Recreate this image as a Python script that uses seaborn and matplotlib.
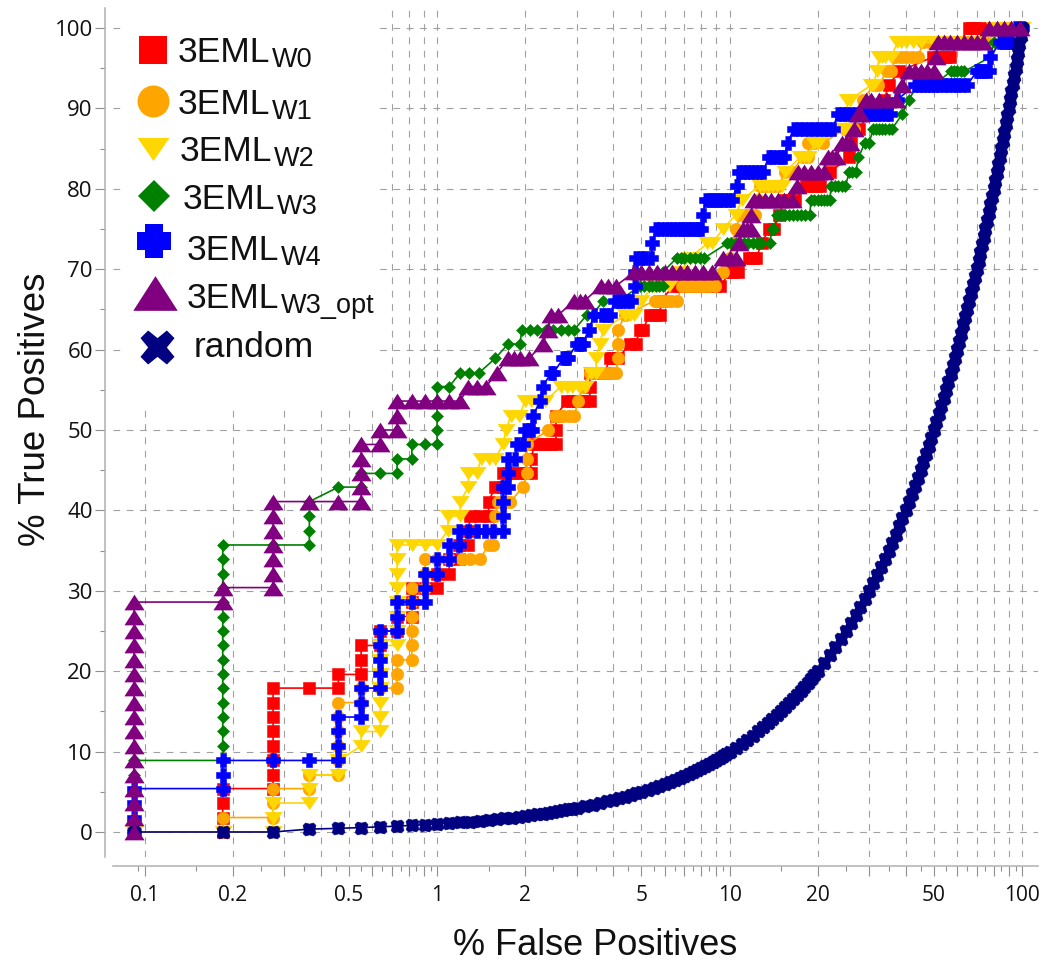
import pandas as pd
import matplotlib.pyplot as plt
from matplotlib.lines import Line2D
from matplotlib.patches import Rectangle
from matplotlib.ticker import FixedLocator, NullFormatter
import seaborn as sns

sns.set_theme(style="ticks")
plt.rcParams['font.family'] = ['Open Sans', 'DejaVu Sans']

# ROC points as (% false positives, % true positives)
w0 = [(0.185, 0), (0.185, 1.8), (0.185, 3.6), (0.185, 5.4),
      (0.275, 5.4), (0.275, 7.1), (0.275, 8.9), (0.275, 10.7), (0.275, 12.5), (0.275, 14.3), (0.275, 16.1), (0.275, 17.9),
      (0.366, 17.9), (0.46, 17.9), (0.46, 19.6), (0.55, 19.6), (0.55, 21.4), (0.55, 23.2), (0.64, 23.2), (0.64, 25),
      (0.73, 25), (0.73, 26.8), (0.82, 26.8), (0.82, 28.6), (0.82, 30.4), (0.91, 30.4), (1.0, 30.4), (1.0, 32.1),
      (1.1, 32.1), (1.1, 33.9), (1.19, 33.9), (1.19, 35.7), (1.28, 35.7), (1.28, 37.5),
      (1.3, 39.3), (1.4, 39.3), (1.5, 39.3), (1.5, 41.1), (1.58, 42.9), (1.68, 42.9),
      (1.68, 44.6), (1.75, 44.6), (1.82, 44.6), (1.94, 44.6), (2.02, 44.6), (2.09, 44.6), (2.09, 46.4),
      (2.16, 48.2), (2.25, 48.2), (2.34, 48.2), (2.45, 48.2), (2.55, 48.2), (2.55, 50), (2.55, 51.8),
      (2.78, 53.6), (2.9, 53.6), (3.03, 53.6), (3.18, 53.6), (3.33, 53.6), (3.33, 55.4),
      (3.33, 57.1), (3.5, 57.1), (3.74, 57.1), (3.9, 58.9), (4.0, 58.9), (4.15, 58.9), (4.56, 60.7), (4.78, 60.7),
      (4.93, 62.5), (5.05, 62.5), (5.33, 64.3), (5.55, 64.3), (5.8, 64.3), (5.8, 66.1),
      (6.45, 67.9), (6.7, 67.9), (7.0, 67.9), (7.3, 67.9), (7.6, 67.9), (7.9, 67.9), (8.2, 67.9), (8.55, 67.9), (8.9, 67.9), (9.3, 67.9),
      (10, 69.6), (10.3, 69.6), (10.65, 69.6), (11.7, 71.4), (12, 71.4), (12.3, 71.4), (12.9, 73.2), (13.6, 75), (14.2, 75), (14.8, 76.8),
      (15.4, 78.6), (16, 78.6), (16.7, 78.6), (18.3, 80.4), (19, 80.4), (19.7, 80.4), (20.4, 80.4), (22, 82.1), (25.7, 83.9), (26, 85.7),
      (27.8, 87.5), (30, 89.3), (33.8, 91.1), (35, 92.9), (38, 94.6), (49.6, 96.4), (51.5, 96.4), (53.5, 96.4), (55, 96.4), (56.8, 96.4),
      (61, 98.2), (66, 100), (67.5, 100), (69, 100), (73, 100), (78, 100), (84, 100), (90, 100), (96, 100), (100, 100)]

w1 = [(0.185, 0), (0.185, 1.8), (0.275, 1.8), (0.275, 3.6), (0.275, 5.4), (0.366, 5.4), (0.366, 7.1), (0.46, 7.1),
      (0.46, 8.9), (0.46, 10.7), (0.46, 12.5), (0.46, 14.3), (0.46, 16.1), (0.55, 16.1), (0.55, 17.9), (0.64, 17.9),
      (0.73, 17.9), (0.73, 19.6), (0.73, 21.4), (0.82, 21.4), (0.82, 23.2), (0.82, 25), (0.82, 26.8), (0.82, 28.6),
      (0.82, 30.4), (0.91, 30.4), (0.91, 32.1), (0.91, 33.9), (1.0, 33.9), (1.1, 33.9), (1.22, 33.9), (1.3, 33.9), (1.4, 33.9),
      (1.5, 35.7), (1.55, 35.7), (1.55, 37.5), (1.58, 39.3), (1.62, 41.1), (1.72, 41.1), (1.78, 41.1), (1.97, 42.9),
      (2.03, 44.6), (2.03, 46.4), (2.03, 48.2), (2.4, 50), (2.53, 51.8), (2.62, 51.8), (2.7, 51.8), (2.82, 51.8), (2.95, 51.8), (3.03, 53.6),
      (3.15, 55.4), (3.33, 57.1), (3.46, 57.1), (3.6, 57.1), (3.72, 57.1), (3.85, 57.1), (4.0, 57.1), (4.1, 57.1), (4.15, 58.9), (4.15, 60.7), (4.15, 62.5),
      (4.4, 64.3), (5.55, 66.1), (5.7, 66.1), (5.9, 66.1), (6.1, 66.1), (6.3, 66.1), (6.6, 66.1),
      (6.9, 67.9), (7.15, 67.9), (7.4, 67.9), (7.65, 67.9), (7.9, 67.9), (8.2, 67.9), (8.5, 67.9), (8.9, 67.9),
      (9.5, 69.6), (10, 71.4), (10.2, 73.2), (10.5, 75), (10.9, 76.8), (11.2, 76.8), (11.5, 76.8), (11.9, 76.8), (12.2, 76.8), (12.5, 78.6),
      (12.7, 80.4), (13.1, 80.4), (13.5, 80.4), (14.1, 80.4), (14.7, 80.4), (15.5, 82.1), (16.3, 82.1), (17.8, 83.9), (18.6, 83.9),
      (18.6, 85.7), (19.5, 85.7), (20.9, 85.7), (24.9, 87.5), (25.8, 87.5), (26.7, 87.5), (27.5, 89.3), (28.5, 91.1),
      (31.2, 92.9), (32.3, 92.9), (34.5, 94.6), (35.7, 94.6), (36.9, 96.4), (38.5, 96.4), (40, 96.4), (42, 96.4), (44, 96.4),
      (46, 98.2), (48, 98.2), (49, 98.2), (55, 98.2), (65, 98.2), (75, 98.2), (85, 100), (95, 100), (100, 100)]

w2 = [(0.092, 0), (0.185, 0), (0.275, 0), (0.275, 1.8), (0.275, 3.6), (0.366, 3.6), (0.366, 5.4), (0.366, 7.1), (0.46, 7.1),
      (0.46, 8.9), (0.55, 10.7), (0.55, 12.5), (0.64, 12.5), (0.64, 14.3), (0.64, 16.1), (0.64, 17.9), (0.64, 19.6),
      (0.64, 21.4), (0.64, 23.2), (0.73, 23.2), (0.73, 25), (0.73, 26.8), (0.73, 28.6), (0.73, 30.4), (0.73, 32.1),
      (0.73, 33.9), (0.73, 35.7), (0.82, 35.7), (0.91, 35.7), (1.0, 35.7), (1.09, 37.5), (1.09, 39.3), (1.2, 39.3),
      (1.2, 41.1), (1.28, 42.9), (1.28, 44.6), (1.37, 44.6), (1.41, 46.4), (1.5, 46.4), (1.58, 46.4), (1.68, 48.2), (1.72, 50),
      (1.79, 51.8), (1.91, 51.8), (2, 53.6), (2.1, 53.6), (2.2, 53.6), (2.34, 53.6), (2.65, 55.4), (2.78, 55.4), (2.9, 55.4), (3.05, 55.4), (3.2, 55.4),
      (3.35, 57.1), (3.5, 57.1), (3.5, 58.9), (3.6, 60.7), (3.7, 62.5), (4.4, 64.3), (4.55, 64.3), (4.7, 64.3), (5.0, 66.1),
      (5.5, 67.9), (6.2, 67.9), (6.8, 69.6), (7.3, 71.4), (8.4, 73.2), (8.7, 73.2), (9.5, 75), (10.5, 76.8), (11, 78.6),
      (12.7, 80.4), (13.1, 80.4), (13.5, 80.4), (14, 80.4), (14.5, 80.4), (15.1, 80.4), (15.5, 82.1), (17.4, 83.9), (18, 83.9), (18.6, 83.9), (19.5, 85.7), (20.1, 85.7),
      (24.5, 87.5), (25, 87.5), (25.2, 89.3), (25.3, 91.1), (25.8, 91.1), (30.5, 92.9), (31, 92.9), (31.9, 94.6),
      (32.5, 96.4), (33.2, 96.4), (34, 96.4), (35.7, 96.4), (37.5, 98.2), (38.7, 98.2), (40, 98.2), (42.5, 98.2), (45, 98.2),
      (50, 98.2), (60, 98.2), (70, 98.2), (80, 100), (90, 100), (100, 100)]

w3 = [(0.092, 0), (0.092, 1.8), (0.092, 3.6), (0.092, 5.4), (0.092, 7.1), (0.092, 8.9), (0.185, 8.9), (0.185, 10.7), (0.185, 12.5),
      (0.185, 14.3), (0.185, 16.1), (0.185, 17.9), (0.185, 19.6), (0.185, 21.4), (0.185, 23.2), (0.185, 25), (0.185, 26.8),
      (0.185, 28.6), (0.185, 30.4), (0.185, 32.1), (0.185, 33.9), (0.185, 35.7), (0.275, 35.7), (0.366, 35.7), (0.366, 37.5),
      (0.366, 39.3), (0.366, 41.1), (0.46, 42.9), (0.55, 42.9), (0.55, 44.6), (0.64, 44.6), (0.73, 44.6), (0.73, 46.4),
      (0.82, 46.4), (0.82, 48.2), (0.91, 48.2), (1.0, 48.2), (1.0, 50), (1.0, 51.8), (1.0, 53.6), (1.0, 55.4), (1.1, 55.4),
      (1.2, 57.1), (1.29, 57.1), (1.39, 57.1), (1.58, 58.9), (1.75, 60.7), (1.92, 60.7), (1.95, 62.5), (2.08, 62.5),
      (2.2, 62.5), (2.35, 62.5), (2.5, 62.5), (2.65, 62.5), (2.8, 62.5), (2.95, 62.5), (3.25, 64.3), (3.4, 64.3),
      (3.7, 66.1), (4.2, 66.1), (4.93, 67.9), (5.1, 67.9), (5.3, 67.9), (5.45, 67.9), (5.6, 67.9), (5.75, 67.9), (5.9, 67.9), (5.9, 69.6),
      (6.6, 71.4), (6.8, 71.4), (7, 71.4), (7.3, 71.4), (7.6, 71.4), (7.9, 71.4), (8.2, 71.4),
      (9.8, 73.2), (10.15, 73.2), (10.5, 73.2), (10.85, 73.2), (11.2, 73.2), (11.6, 73.2), (12, 73.2), (12.4, 73.2), (12.8, 73.2), (13.7, 73.2),
      (14, 75), (14.2, 75), (14.5, 76.8), (15, 76.8), (15.5, 76.8), (16, 76.8), (16.5, 76.8), (17, 76.8), (17.5, 76.8), (18.1, 76.8), (18.8, 76.8),
      (19, 78.6), (19.5, 78.6), (20, 78.6), (20.5, 78.6), (21, 78.6), (21.5, 78.6), (22, 78.6),
      (22.3, 80.4), (22.9, 80.4), (23.5, 80.4), (24.2, 80.4), (24.9, 80.4), (25.7, 82.1), (26.3, 82.1), (27, 82.1),
      (27.6, 83.9), (29, 85.7), (30, 85.7), (31, 87.5), (31.7, 87.5), (32.5, 87.5), (33.2, 87.5), (34, 87.5), (35, 87.5), (36, 87.5),
      (39, 89.3), (41, 91.1), (44, 92.9), (50, 92.9), (57, 94.6), (58.5, 94.6), (60, 94.6), (61.7, 94.6), (63.5, 94.6),
      (78, 96.4), (80, 98.2), (88, 98.2), (95, 98.2), (96, 100), (100, 100)]

w4 = [(0.092, 0), (0.092, 1.8), (0.092, 3.6), (0.092, 5.4), (0.185, 5.4), (0.185, 7.1), (0.185, 8.9), (0.275, 8.9), (0.366, 8.9),
      (0.46, 8.9), (0.46, 10.7), (0.46, 12.5), (0.46, 14.3), (0.55, 14.3), (0.55, 16.1), (0.55, 17.9), (0.64, 17.9),
      (0.64, 19.6), (0.64, 21.4), (0.64, 23.2), (0.64, 25), (0.73, 25), (0.73, 26.8), (0.73, 28.6), (0.82, 28.6),
      (0.91, 28.6), (0.91, 30.4), (0.91, 32.1), (1.0, 32.1), (1.0, 33.9), (1.1, 33.9), (1.1, 35.7), (1.19, 35.7),
      (1.19, 37.5), (1.28, 37.5), (1.37, 37.5), (1.46, 37.5), (1.55, 37.5), (1.68, 37.5), (1.68, 39.3), (1.68, 41.1),
      (1.68, 42.9), (1.75, 42.9), (1.75, 44.6), (1.75, 46.4), (1.85, 46.4), (1.88, 48.2), (1.96, 48.2), (2, 50), (2.06, 50), (2.12, 50),
      (2.13, 51.8), (2.25, 53.6), (2.3, 55.4), (2.45, 57.1), (2.5, 57.1), (2.7, 58.9), (2.75, 58.9), (2.8, 58.9), (3.0, 60.7), (3.08, 60.7), (3.15, 60.7),
      (3.3, 62.5), (3.45, 64.3), (3.65, 64.3), (3.78, 64.3), (3.9, 64.3), (4.05, 66.1), (4.18, 66.1), (4.3, 66.1), (4.45, 66.1), (4.6, 66.1), (4.75, 67.9), (4.75, 69.6),
      (4.8, 71.4), (5, 71.4), (5.15, 71.4), (5.4, 71.4), (5.45, 73.2),
      (5.6, 75), (5.8, 75), (6, 75), (6.2, 75), (6.4, 75), (6.6, 75), (6.8, 75), (7, 75), (7.2, 75), (7.4, 75), (7.6, 75), (7.8, 75), (8, 75),
      (8.1, 76.8), (8.3, 78.6), (8.55, 78.6), (8.8, 78.6), (9.05, 78.6), (9.3, 78.6), (9.6, 78.6), (9.9, 78.6), (10.2, 78.6), (10.6, 80.4),
      (10.8, 82.1), (11.15, 82.1), (11.5, 82.1), (11.85, 82.1), (12.2, 82.1), (12.6, 82.1), (13, 82.1),
      (13.6, 83.9), (14, 83.9), (14.5, 83.9), (15, 83.9), (15.4, 83.9), (15.8, 85.7),
      (16.6, 87.5), (17.3, 87.5), (18, 87.5), (18.7, 87.5), (19.5, 87.5), (20.2, 87.5), (21, 87.5), (21.7, 87.5), (22.5, 87.5),
      (23.5, 89.3), (24.2, 89.3), (25, 89.3), (26, 89.3), (27, 89.3), (28, 89.3), (29, 89.3), (30, 89.3), (31, 89.3), (32, 89.3), (33, 89.3), (34.2, 89.3), (35.5, 89.3), (37.5, 91.1),
      (43, 92.9), (44.5, 92.9), (46, 92.9), (47.5, 92.9), (49, 92.9), (50.5, 92.9), (52, 92.9), (54, 92.9), (56, 92.9), (58, 92.9), (60, 92.9), (62.5, 92.9), (65, 92.9),
      (70, 94.6), (71.5, 94.6), (73, 94.6), (75, 94.6), (77, 94.6), (78, 96.4), (84, 98.2), (86, 98.2), (88, 98.2), (90, 98.2), (92, 98.2), (95, 100), (100, 100)]

w3_opt = [(0.092, 0), (0.092, 1.8), (0.092, 3.6), (0.092, 5.4), (0.092, 7.1), (0.092, 8.9), (0.092, 10.7), (0.092, 12.5), (0.092, 14.3),
          (0.092, 16.1), (0.092, 17.9), (0.092, 19.6), (0.092, 21.4), (0.092, 23.2), (0.092, 25), (0.092, 26.8), (0.092, 28.6),
          (0.185, 28.6), (0.185, 30.4), (0.275, 30.4), (0.275, 32.1), (0.275, 33.9), (0.275, 35.7), (0.275, 37.5), (0.275, 39.3),
          (0.275, 41.1), (0.366, 41.1), (0.46, 41.1), (0.55, 41.1), (0.55, 42.9), (0.55, 44.6), (0.55, 46.4), (0.55, 48.2),
          (0.64, 48.2), (0.64, 50), (0.73, 50), (0.73, 51.8), (0.73, 53.6), (0.82, 53.6), (0.91, 53.6), (1.0, 53.6), (1.1, 53.6), (1.2, 53.6),
          (1.28, 55.4), (1.37, 55.4), (1.47, 55.4), (1.6, 57.1), (1.75, 58.9), (1.83, 58.9), (1.92, 58.9), (2.06, 58.9), (2.3, 60.7), (2.4, 62.5),
          (2.45, 64.3), (2.6, 64.3), (2.94, 66.1), (3.08, 66.1), (3.2, 66.1), (3.63, 67.9), (3.85, 67.9), (4.08, 67.9),
          (4.7, 69.6), (5, 69.6), (5.3, 69.6), (5.65, 69.6), (6, 69.6), (6.35, 69.6), (6.75, 69.6), (7.15, 69.6), (7.6, 69.6), (8.1, 69.6), (8.7, 69.6),
          (9.5, 71.4), (10, 71.4), (10.5, 71.4), (10.8, 73.2), (11.1, 75), (11.45, 75), (11.8, 75), (11.8, 76.8),
          (12.1, 78.6), (12.6, 78.6), (13.2, 78.6), (13.9, 78.6), (14.6, 78.6), (15.4, 78.6), (16.3, 78.6), (17, 80.4),
          (17.2, 82.1), (18, 82.1), (19, 82.1), (20, 82.1), (21, 82.1), (21.7, 83.9), (22.4, 83.9), (23.2, 83.9), (24.3, 85.7), (25, 85.7), (25.8, 85.7), (26.7, 87.5),
          (27.4, 89.3), (28, 89.3), (29.2, 91.1), (30.5, 91.1), (32.5, 91.1), (34.5, 91.1), (37, 91.1), (39, 92.9),
          (41, 94.6), (43, 94.6), (45, 94.6), (47.5, 94.6), (50, 94.6), (51, 96.4),
          (51.5, 98.2), (54, 98.2), (56.6, 98.2), (60, 98.2), (63.5, 98.2), (67, 98.2), (70, 98.2), (73.5, 98.2),
          (77, 100), (82, 100), (87, 100), (92, 100), (98.5, 100)]

random_fp = [0.092, 0.185, 0.275, 0.366, 0.46, 0.55, 0.64, 0.73, 0.82, 0.91, 1.0, 1.1, 1.2, 1.3, 1.4, 1.5, 1.6, 1.7, 1.8, 1.9,
             2, 2.1, 2.2, 2.3, 2.4, 2.5, 2.6, 2.7, 2.8, 2.9, 3, 3.2, 3.4, 3.6, 3.8, 4, 4.2, 4.4, 4.6, 4.8, 5, 5.25, 5.5, 5.75,
             6, 6.25, 6.5, 6.75, 7, 7.25, 7.5, 7.75, 8, 8.25, 8.5, 8.75, 9, 9.25, 9.5, 9.75, 10, 10.5, 11, 11.5, 12, 12.5, 13,
             13.5, 14, 14.5, 15, 15.5, 16, 16.5, 17, 17.5, 18, 18.5, 19, 19.5, 20, 21, 22, 23, 24, 25, 26, 27, 28, 29, 30,
             31, 32, 33, 34, 35, 36, 37, 38, 39, 40, 41, 42, 43, 44, 45, 46, 47, 48, 49, 50, 51, 52, 53, 54, 55, 56, 57, 58,
             59, 60, 61, 62, 63, 64, 65, 66, 67, 68, 69, 70, 71, 72, 73, 74, 75, 76, 77, 78, 79, 80, 81, 82, 83, 84, 85, 86,
             87, 88, 89, 90, 91, 92, 93, 94, 95, 96, 97, 98, 99, 100]
random_tp = [0, 0, 0, 0.36, 0.45, 0.55, 0.64, 0.73, 0.82, 0.91, 1.0, 1.1, 1.2, 1.3, 1.4, 1.5, 1.6, 1.7, 1.8, 1.9,
             2, 2.1, 2.2, 2.3, 2.4, 2.5, 2.6, 2.7, 2.8, 2.9, 3, 3.2, 3.4, 3.6, 3.8, 4, 4.2, 4.4, 4.6, 4.8, 5, 5.25, 5.5, 5.75,
             6, 6.25, 6.5, 6.75, 7, 7.25, 7.5, 7.75, 8, 8.25, 8.5, 8.75, 9, 9.25, 9.5, 9.75, 10, 10.5, 11, 11.5, 12, 12.5, 13,
             13.5, 14, 14.5, 15, 15.5, 16, 16.5, 17, 17.5, 18, 18.5, 19, 19.5, 20, 21, 22, 23, 24, 25, 26, 27, 28, 29, 30,
             31, 32, 33, 34, 35, 36, 37, 38, 39, 40, 41, 42, 43, 44, 45, 46, 47, 48, 49, 50, 51, 52, 53, 54, 55, 56, 57, 58,
             59, 60, 61, 62, 63, 64, 65, 66, 67, 68, 69, 70, 71, 72, 73, 74, 75, 76, 77, 78, 79, 80, 81, 82, 83, 84, 85, 86,
             87, 88, 89, 90, 91, 92, 93, 94, 95, 96, 97, 98, 99, 100]

x_major = [0.1, 0.2, 0.3, 0.4, 0.5, 0.6, 0.7, 0.8, 0.9, 1, 2, 3, 4, 5, 6, 7, 8, 9, 10, 20, 30, 40, 50, 60, 70, 80, 90, 100]
x_minor = [0.095, 0.15, 0.25, 0.35, 0.45, 0.55, 0.65, 0.75, 0.85, 0.95, 1.5, 2.5, 3.5, 4.5, 5.5, 6.5, 7.5, 8.5, 9.5,
           15, 25, 35, 45, 55, 65, 75, 85, 95]
x_labelled = {0.1: '0.1', 0.2: '0.2', 0.5: '0.5', 1: '1', 2: '2', 5: '5', 10: '10', 20: '20', 50: '50', 100: '100'}
y_major = [0, 10, 20, 30, 40, 50, 60, 70, 80, 90, 100]
y_minor = [5, 15, 25, 35, 45, 55, 65, 75, 85, 95]

# markers in the picture are squatter / fatter than the stock ones
tri_down = [(-1, 0.72), (1, 0.72), (0, -0.72)]
tri_up = [(-1, -0.78), (1, -0.78), (0, 0.78)]
fat_plus = [(-0.5, 1), (0.5, 1), (0.5, 0.5), (1, 0.5), (1, -0.5), (0.5, -0.5), (0.5, -1), (-0.5, -1),
            (-0.5, -0.5), (-1, -0.5), (-1, 0.5), (-0.5, 0.5)]
fat_x = [(-1, -0.55), (-0.55, -1), (0, -0.55), (0.55, -1), (1, -0.55), (0.55, 0), (1, 0.55), (0.55, 1),
         (0, 0.55), (-0.55, 1), (-1, 0.55), (-0.55, 0)]
# at plot size the x blurs into a round blob with shallow notches
blob = [(-1, -0.6), (-0.6, -1), (0, -0.82), (0.6, -1), (1, -0.6), (0.82, 0), (1, 0.6), (0.6, 1),
        (0, 0.82), (-0.6, 1), (-1, 0.6), (-0.82, 0)]

W, H = 1050, 973
fig = plt.figure(figsize=(W / 100, H / 100), dpi=100)
ax = fig.add_axes([113 / W, 1 - 857 / H, (1038 - 113) / W, (857 - 8) / H])
ax.set_xscale('log')
ax.set_xlim(0.078, 113.4)
ax.set_ylim(-3.11, 102.49)

series = [
    (w0, 's', '#ff0000', 8.0),
    (w1, 'o', '#ffa500', 9.0),
    (w2, tri_down, '#ffd700', 12.5),
    (w3, 'D', '#008000', 6.6),
    (w4, fat_plus, '#0000ff', 9.6),
]
z = 3
for pts, mk, col, ms in series:
    df = pd.DataFrame(pts, columns=['fp', 'tp'])
    sns.lineplot(data=df, x='fp', y='tp', sort=False, estimator=None, marker=mk, markersize=ms, color=col,
                 linewidth=1.2, markeredgewidth=0.4, markeredgecolor=col, legend=False, ax=ax, zorder=z, clip_on=False)
    z += 1

sns.lineplot(x=random_fp, y=random_tp, sort=False, estimator=None, marker=blob, markersize=9.4, color='#000080',
             linewidth=1.2, markeredgewidth=0.4, markeredgecolor='#000080', legend=False, ax=ax, zorder=z)
df = pd.DataFrame(w3_opt, columns=['fp', 'tp'])
sns.lineplot(data=df, x='fp', y='tp', sort=False, estimator=None, marker=tri_up, markersize=14.5, color='#800080',
             linewidth=1.2, markeredgewidth=0, markeredgecolor='#800080', legend=False, ax=ax, zorder=z + 1, clip_on=False)

# axes
for s in ['top', 'right']:
    ax.spines[s].set_visible(False)
ax.spines['left'].set_position(('outward', 6))
ax.spines['bottom'].set_position(('outward', 6.5))
for s in ['left', 'bottom']:
    ax.spines[s].set_color('#b0b0b0')
    ax.spines[s].set_linewidth(1.1)

ax.xaxis.set_major_locator(FixedLocator(x_major))
ax.xaxis.set_minor_locator(FixedLocator(x_minor))
ax.xaxis.set_minor_formatter(NullFormatter())
ax.set_xticklabels([x_labelled.get(v, '') for v in x_major])
ax.set_yticks(y_major)
ax.set_yticks(y_minor, minor=True)
ax.tick_params(axis='both', which='major', length=7.5, width=0.8, color='#909090', labelcolor='#111111')
ax.tick_params(axis='both', which='minor', length=3.8, width=0.8, color='#909090')
ax.tick_params(axis='x', which='major', labelsize=15, pad=6)
ax.tick_params(axis='y', which='major', labelsize=16, pad=1)

ax.grid(True, which='major', axis='both', color='#a0a0a0', linewidth=0.8, linestyle=(0, (6, 6)), zorder=0.5)
ax.set_axisbelow(True)

ax.set_xlabel('% False Positives', fontsize=26, family='Liberation Sans', labelpad=16, color='#111111', x=0.521)
ax.set_ylabel('% True Positives', fontsize=26.5, family='Liberation Sans', labelpad=1, color='#111111', y=0.527)

# white box behind the legend hides the grid there
fig.add_artist(Rectangle((121 / W, 1 - 407 / H), (379 - 121) / W, (407 - 10) / H, transform=fig.transFigure,
                         facecolor='white', edgecolor='none', zorder=1.5))

# label, subscript, marker, colour, marker size, marker x/y px, text x/y px
legend_rows = [
    ('3EML', 'W0', 's', '#ff0000', 19.5, 153, 50, 178, 62),
    ('3EML', 'W1', 'o', '#ffa500', 23, 153, 101, 178, 114),
    ('3EML', 'W2', tri_down, '#ffd700', 23, 153, 149, 180, 161),
    ('3EML', 'W3', 'D', '#008000', 16.3, 154, 196, 183, 209),
    ('3EML', 'W4', fat_plus, '#0000ff', 25, 154, 241, 187, 260),
    ('3EML', 'W3_opt', tri_up, '#800080', 32, 155, 293, 187, 308),
    ('random', '', fat_x, '#000080', 24.5, 157, 347, 194, 357),
]
for label, sub, mk, col, ms, mx, my, tx, ty in legend_rows:
    fig.add_artist(Line2D([mx / W], [1 - my / H], transform=fig.transFigure, marker=mk, markersize=ms, color=col,
                          markeredgewidth=0, linestyle='none', zorder=5))
    fig.text(tx / W, 1 - ty / H, label, fontsize=25.5, family='Liberation Sans', color='#111111', va='baseline', zorder=5)
    if sub:
        fig.text((tx + 94) / W, 1 - (ty + 5) / H, sub, fontsize=19.5, family='Liberation Sans', color='#111111',
                 va='baseline', zorder=5)

fig.savefig('out.png', dpi=100, facecolor='white')
